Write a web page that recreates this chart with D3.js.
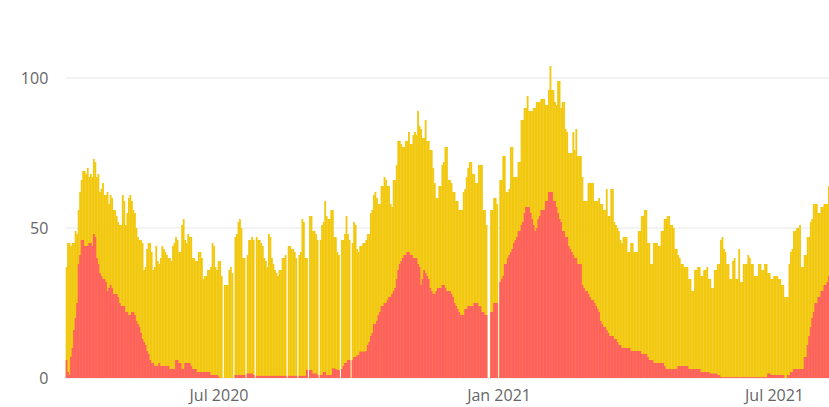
<!DOCTYPE html>
<html>
<head>
<meta charset="utf-8">
<script src="https://cdn.jsdelivr.net/npm/d3@7"></script>
<style>
  html, body { margin: 0; padding: 0; background: #fff; }
  svg { display: block; }
  text { font-family: "Segoe UI", "Open Sans", sans-serif; }
</style>
</head>
<body>
<svg id="chart" width="829" height="407"></svg>
<script>
// First day of the daily series; each array entry below is one consecutive day.
const startDate = "2020-03-23";

// Daily totals (yellow bars). null = no report for that day.
const totalCases = [
  37,45,45,44,45,45,49,48,56,62,
  66,69,69,68,70,67,68,67,73,72,
  67,68,62,63,65,61,61,62,58,61,
  60,56,56,54,52,51,51,61,59,51,
  55,60,61,59,56,55,50,47,46,46,
  45,36,37,43,45,45,42,36,37,44,
  39,38,40,44,43,42,41,40,40,39,
  44,45,47,46,42,42,51,53,46,45,
  48,47,47,40,40,39,39,42,42,40,
  33,34,34,36,36,37,45,44,37,36,
  39,39,34,null,31,31,31,36,37,35,
  null,47,48,52,53,50,40,40,null,41,
  46,46,47,46,null,47,46,46,45,44,
  40,39,37,48,47,40,38,36,35,34,
  36,36,40,40,41,null,44,44,43,43,
  42,40,null,41,42,53,52,40,40,null,
  54,54,49,49,48,46,null,46,51,52,
  59,54,53,53,56,56,47,47,42,41,
  null,46,46,48,54,48,46,null,45,52,
  51,43,42,44,44,45,45,46,48,48,
  55,56,61,62,60,58,58,64,64,67,
  66,64,64,58,57,66,66,71,79,79,
  78,77,77,79,79,82,78,78,81,82,
  81,89,84,83,80,80,86,79,79,76,
  76,70,65,60,60,64,64,71,72,77,
  77,66,66,65,62,62,59,59,56,56,
  56,62,63,67,70,72,72,68,68,65,
  65,71,71,71,56,56,51,null,null,56,
  56,60,60,58,null,66,66,74,74,62,
  62,63,77,77,67,67,67,72,72,86,
  86,90,90,94,89,89,89,90,90,92,
  92,92,93,93,93,91,91,96,104,96,
  96,92,91,99,99,90,92,92,83,82,
  75,75,75,82,76,83,74,74,74,67,
  59,59,59,65,65,65,65,59,59,59,
  60,58,58,56,56,63,54,54,63,63,
  52,51,50,49,46,45,47,47,47,42,
  42,45,45,42,42,42,49,49,54,54,
  56,56,45,45,38,38,45,45,45,44,
  44,49,49,53,53,54,54,51,51,50,
  43,43,41,40,38,38,37,37,37,33,
  33,29,29,36,36,37,37,34,34,36,
  36,37,33,33,30,30,36,36,38,38,
  46,47,43,42,38,38,33,33,39,40,
  33,33,43,32,32,38,38,38,41,40,
  38,38,34,34,34,38,38,36,36,38,
  38,35,35,33,33,34,34,34,33,33,
  31,31,27,27,27,38,42,43,49,49,
  50,50,51,37,37,41,41,47,47,52,
  53,58,58,58,55,55,57,57,58,58,
  58,64,64
];

// Daily subset drawn in red over the bottom of each total bar.
const severeCases = [
  6,2,1,7,10,16,20,25,38,41,
  46,46,44,44,44,45,45,44,48,47,
  40,38,35,34,33,33,32,29,30,31,
  30,28,28,28,27,25,24,24,24,22,
  22,21,21,22,22,21,19,18,17,15,
  13,12,11,9,8,6,5,5,4,4,
  4,5,4,4,4,4,4,4,3,3,
  3,3,6,6,5,5,3,3,5,5,
  5,5,4,3,3,3,2,2,2,2,
  2,2,2,2,2,1,1,1,1,1,
  0.5,0,0,null,0,0,0,0,0,0,
  null,1,1,1,1,1,1,1,null,1.5,
  1.5,1.5,1.5,1,null,0.7,0.7,0.7,0.7,0.7,
  0.7,0.7,0.7,0.7,0.7,0.7,0.7,0.7,0.7,0.7,
  0.7,0.7,0.7,0.7,0.7,null,0.7,0.7,0.7,0.7,
  0.7,0.7,null,0.7,0.7,0.7,0.7,0.7,2.7,null,
  2.7,2.7,1.5,1.5,1.5,1,null,1,1,2,
  2,1,1,1,1,3.2,3.2,3,2.7,2.7,
  null,3,4,5,5,6,6,null,6,7,
  7,7.5,7.7,8.8,8.8,8.8,8.8,9,11,12,
  14,15,18,18,19,21,22,24,24,25,
  25,26,27,27,28,29,30,33,36,38,
  39,40,41,41,42,42,41,41,40,40,
  40,38,37,31,33,36,35,34,33,30,
  29,28,28,29,30,30,30,31,31,30,
  29,29,29,28,27,25,24,23,22,21,
  21,21,23,23,24,24,24,24,25,25,
  25,24,24,22,22,21,21,null,null,22,
  22,25,25,25,null,32,33,34,38,38,
  40,41,42,43,45,46,47,49,49,51,
  52,55,57,57,57,55,53,51,49,50,
  53,54,56,56,56,59,59,62,62,62,
  59,59,57,55,53,52,49,49,47,47,
  44,43,42,41,40,40,38,38,38,31,
  30,29,29,28,27,26,26,25,24,23,
  22,19,18,17,17,16,15,14,14,14,
  13,13,12,11,11,10,10,10,10,10,
  10,9,9,9,9,9,9,9,8,8,
  8,8,7,6,6,6,5,5,5,5,
  5,5,5,4,3,3,3,3,3,3,
  3,3,4,4,4,4,4,4,4,3,
  3,3,3,3,3,3,3,2,2,2,
  2,2,2,1.5,1.5,1.5,1.5,1.5,1,1,
  0.3,0.3,0.3,0.3,0.3,0.3,0.3,0.3,0.3,0.3,
  0.3,0.3,0.3,0.3,0.3,0.3,0.3,0.3,0.3,0.3,
  0.3,0.3,0.3,0.3,0.3,0.3,0.3,0.3,0.3,0.3,
  0.3,1.5,1.5,1,1,1,1,1,1,1,
  1,1,0,0,1,1,2,2,3,3,
  3,3,3,3,3,7,7,11,14,17,
  20,22,25,25,27,27,29,29,31,31,
  32,34,34
];

const yTicks = [0, 50, 100];
const xTickDates = ["2020-07-01", "2021-01-01", "2021-07-01"];

const colors = { total: "#F2C80F", severe: "#FD625E", grid: "#e8e8e8", label: "#666666" };

const W = 829, H = 407;
const plotLeft = 66.3, plotRight = W, dayWidth = 1.522;
const baseY = 378, topY = 78;

const parse = d3.utcParse("%Y-%m-%d");
const t0 = parse(startDate);
const rows = totalCases.map((v, i) => ({
  date: d3.utcDay.offset(t0, i),
  total: v,
  severe: severeCases[i]
}));

const lastDay = rows.length - 1;
const x = d3.scaleUtc()
  .domain([t0, d3.utcDay.offset(t0, lastDay)])
  .range([plotLeft, plotLeft + lastDay * dayWidth]);

const y = d3.scaleLinear().domain([0, 100]).range([baseY, topY]);

const svg = d3.select("#chart");

svg.append("defs").append("clipPath").attr("id", "plot-clip")
  .append("rect").attr("x", plotLeft - 1).attr("y", 0)
  .attr("width", plotRight - plotLeft + 1).attr("height", H);

// horizontal gridlines
svg.append("g").selectAll("line").data(yTicks).join("line")
  .attr("x1", plotLeft - 0.5).attr("x2", plotRight)
  .attr("y1", d => y(d)).attr("y2", d => y(d))
  .attr("stroke", colors.grid).attr("stroke-width", 1.2);

const bw = x(d3.utcDay.offset(t0, 1)) - x(t0);
const bars = svg.append("g").attr("clip-path", "url(#plot-clip)");

bars.append("g").selectAll("rect")
  .data(rows.filter(d => d.total != null))
  .join("rect")
  .attr("x", d => x(d.date) - bw / 2)
  .attr("width", bw + 0.3)
  .attr("y", d => y(d.total))
  .attr("height", d => y(0) - y(d.total))
  .attr("fill", colors.total);

bars.append("g").selectAll("rect")
  .data(rows.filter(d => d.severe != null && d.severe > 0))
  .join("rect")
  .attr("x", d => x(d.date) - bw / 2)
  .attr("width", bw + 0.3)
  .attr("y", d => y(d.severe))
  .attr("height", d => y(0) - y(d.severe))
  .attr("fill", colors.severe);

// y axis labels
const yAxis = svg.append("g")
  .attr("transform", `translate(${plotLeft},0)`)
  .call(d3.axisLeft(y).tickValues(yTicks).tickSize(0).tickPadding(18));
yAxis.select(".domain").remove();
yAxis.selectAll("text")
  .attr("fill", colors.label)
  .style("font-size", "16px");

// x axis labels
const xAxis = svg.append("g")
  .attr("transform", `translate(0,${baseY})`)
  .call(d3.axisBottom(x)
    .tickValues(xTickDates.map(parse))
    .tickFormat(d3.utcFormat("%b %Y"))
    .tickSize(0).tickPadding(12));
xAxis.select(".domain").remove();
xAxis.selectAll("text")
  .attr("fill", colors.label)
  .style("font-size", "16px");
</script>
</body>
</html>
